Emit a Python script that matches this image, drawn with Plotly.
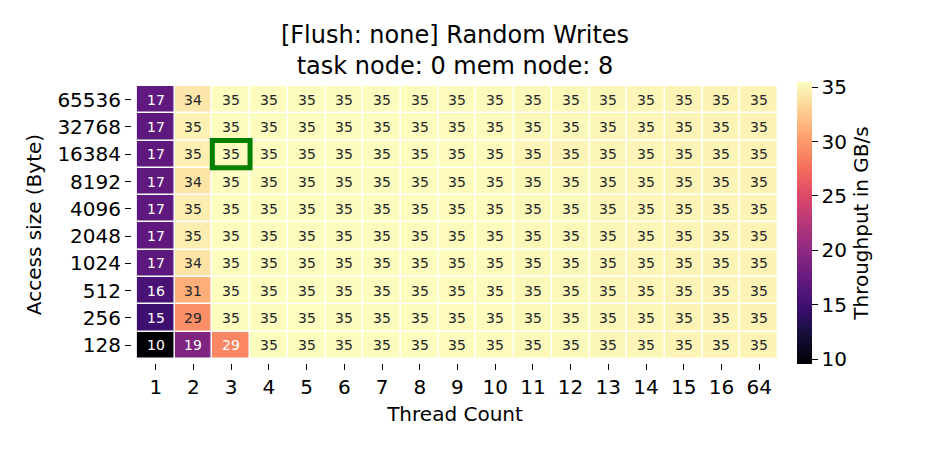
import plotly.graph_objects as go

# ---------------- data ----------------
threads = ["1", "2", "3", "4", "5", "6", "7", "8", "9", "10", "11", "12", "13", "14", "15", "16", "64"]
access_sizes = ["65536", "32768", "16384", "8192", "4096", "2048", "1024", "512", "256", "128"]

row_65536 = [17.1, 34.2, 35.4, 35.4, 35.45, 35.4, 35.4, 35.4, 35.3, 35.3, 35.2, 35.2, 35.1, 35.1, 35.0, 35.0, 34.9]
row_32768 = [17.0, 34.8, 35.4, 35.45, 35.4, 35.4, 35.45, 35.4, 35.3, 35.3, 35.2, 35.2, 35.1, 35.1, 35.0, 35.0, 34.9]
row_16384 = [17.0, 34.7, 35.45, 35.4, 35.4, 35.45, 35.4, 35.4, 35.3, 35.3, 35.1, 35.0, 35.1, 35.1, 35.0, 35.0, 34.9]
row_8192  = [17.1, 34.1, 35.4, 35.4, 35.4, 35.4, 35.4, 35.4, 35.3, 35.3, 35.2, 35.2, 35.1, 35.1, 35.0, 35.0, 34.9]
row_4096  = [17.0, 34.6, 35.45, 35.4, 35.45, 35.4, 35.4, 35.4, 35.3, 35.3, 35.2, 35.2, 35.1, 35.1, 35.0, 35.0, 34.9]
row_2048  = [17.0, 34.6, 35.4, 35.45, 35.4, 35.4, 35.4, 35.4, 35.3, 35.3, 35.2, 35.2, 35.1, 35.1, 35.0, 35.0, 34.9]
row_1024  = [16.9, 34.0, 35.4, 35.4, 35.4, 35.4, 35.4, 35.4, 35.3, 35.3, 35.2, 35.2, 35.1, 35.1, 35.0, 35.0, 34.9]
row_512   = [15.6, 31.1, 35.45, 35.4, 35.4, 35.4, 35.4, 35.4, 35.3, 35.3, 35.2, 35.2, 35.1, 35.1, 35.0, 35.0, 34.9]
row_256   = [14.8, 29.4, 35.4, 35.4, 35.48, 35.4, 35.4, 35.4, 35.3, 35.3, 35.2, 35.2, 35.1, 35.1, 35.0, 35.0, 34.9]
row_128   = [9.55, 19.1, 28.9, 35.4, 35.4, 35.4, 35.4, 35.4, 35.3, 35.3, 35.2, 35.2, 35.1, 35.1, 35.0, 35.0, 34.9]

throughput = [row_65536, row_32768, row_16384, row_8192, row_4096,
              row_2048, row_1024, row_512, row_256, row_128]

highlight_thread = "3"
highlight_size = "16384"

colorbar_ticks = [10, 15, 20, 25, 30, 35]

# ---------------- styling ----------------
magma_hex = ["#000004", "#140e36", "#3b0f70", "#641a80", "#8c2981", "#b73779",
             "#de4968", "#f7705c", "#fe9f6d", "#fecf92", "#fcfdbf"]
n = len(magma_hex)
colorscale = [[i / (n - 1), c] for i, c in enumerate(magma_hex)]

flat = [v for r in throughput for v in r]
zmin, zmax = min(flat), max(flat)


def hex_rgb(h):
    return tuple(int(h[i:i + 2], 16) for i in (1, 3, 5))


def color_at(v):
    f = (v - zmin) / (zmax - zmin)
    f = min(max(f, 0), 1)
    pos = f * (n - 1)
    i = min(int(pos), n - 2)
    t = pos - i
    a, b = hex_rgb(magma_hex[i]), hex_rgb(magma_hex[i + 1])
    return tuple(a[k] + (b[k] - a[k]) * t for k in range(3))


def text_color(v):
    rgb = [c / 255 for c in color_at(v)]
    lin = [c / 12.92 if c <= 0.03928 else ((c + 0.055) / 1.055) ** 2.4 for c in rgb]
    lum = 0.2126 * lin[0] + 0.7152 * lin[1] + 0.0722 * lin[2]
    return "#262626" if lum > 0.408 else "#ffffff"


FONT = "DejaVu Sans"
xs = list(range(len(threads)))
ys = list(range(len(access_sizes)))

# plot area in px
L, R, T, B = 132, 778, 86, 363
W, H = 938, 450

fig = go.Figure()
fig.add_trace(go.Heatmap(
    z=throughput, x=xs, y=ys,
    colorscale=colorscale, zmin=zmin, zmax=zmax,
    xgap=1.5, ygap=1.5,
    hoverinfo="skip",
    colorbar=dict(
        thickness=15, thicknessmode="pixels",
        len=282, lenmode="pixels",
        x=(797 - L) / (R - L), xanchor="left", xref="paper",
        y=(B - 223) / (B - T), yanchor="middle",
        xpad=0, ypad=0, outlinewidth=0,
        tickvals=colorbar_ticks, ticks="outside", ticklen=6, tickwidth=1.2,
        tickcolor="black",
        tickfont=dict(family=FONT, size=20, color="black"),
        title=dict(text="Throughput in GB/s", side="right",
                   font=dict(family=FONT, size=20, color="black")),
    ),
))

annotations = []
for yi, row in enumerate(throughput):
    for xi, v in enumerate(row):
        annotations.append(dict(
            x=xs[xi], y=ys[yi], xref="x", yref="y",
            text=f"{v:.0f}", showarrow=False,
            font=dict(family=FONT, size=14, color=text_color(v)),
        ))

hx = threads.index(highlight_thread)
hy = access_sizes.index(highlight_size)
fig.add_shape(type="rect", xref="x", yref="y",
              x0=xs[hx] - 0.5, x1=xs[hx] + 0.5, y0=ys[hy] - 0.5, y1=ys[hy] + 0.5,
              line=dict(color="#008000", width=5))

fig.update_layout(
    width=W, height=H,
    margin=dict(l=L, r=W - R, t=T, b=H - B, pad=0),
    paper_bgcolor="white", plot_bgcolor="white",
    font=dict(family=FONT, color="black"),
    annotations=annotations,
    title=dict(text="[Flush: none] Random Writes<br>task node: 0 mem node: 8",
               x=0.5, xref="paper", xanchor="center",
               y=0.905, yref="container", yanchor="top",
               font=dict(family=FONT, size=24, color="black")),
    xaxis=dict(
        range=[-0.5 - 0.13, len(threads) - 0.5],
        tickvals=xs, ticktext=threads,
        ticks="outside", ticklen=6, tickwidth=1.2, tickcolor="black",
        tickfont=dict(family=FONT, size=20, color="black"),
        showgrid=False, zeroline=False, showline=False,
        title=dict(text="Thread Count", font=dict(family=FONT, size=20, color="black"), standoff=8),
    ),
    yaxis=dict(
        range=[len(access_sizes) - 0.5 + 0.15, -0.5],
        tickvals=ys, ticktext=access_sizes,
        ticks="outside", ticklen=6, tickwidth=1.2, tickcolor="black",
        tickfont=dict(family=FONT, size=20, color="black"),
        showgrid=False, zeroline=False, showline=False,
        title=dict(text="Access size (Byte)", font=dict(family=FONT, size=20, color="black"), standoff=10),
    ),
)

fig.write_html("out.html")
